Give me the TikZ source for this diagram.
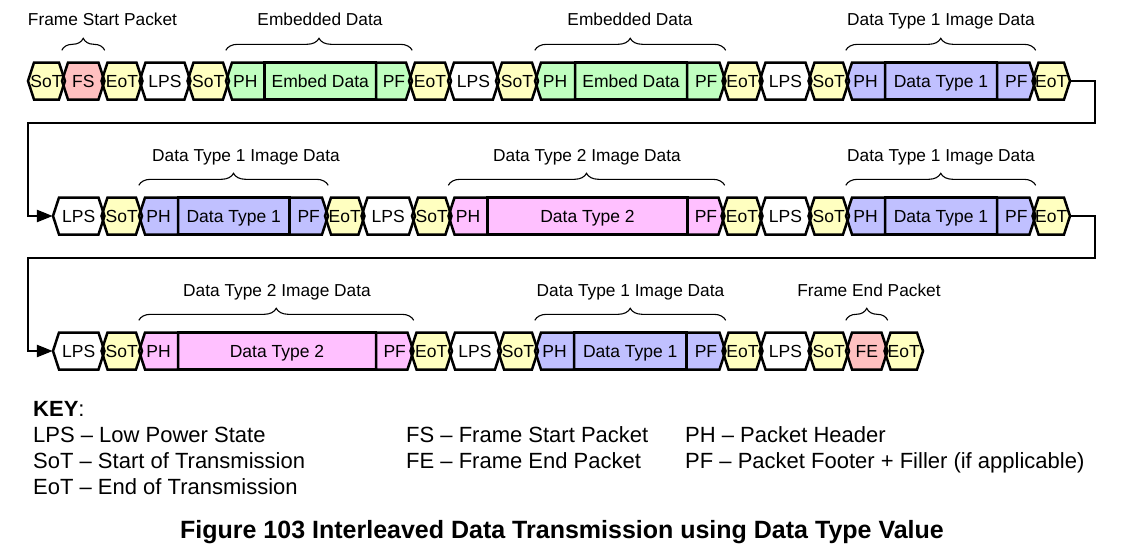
\documentclass[tikz,border=0pt]{standalone}
\usepackage{fontspec}
\setmainfont{Liberation Sans}
\usetikzlibrary{arrows.meta,decorations.pathreplacing}

\definecolor{sotyellow}{HTML}{FFFFC0}
\definecolor{framered}{HTML}{FFC0C0}
\definecolor{embgreen}{HTML}{C0FFC0}
\definecolor{dtblue}{HTML}{C0C0FF}
\definecolor{dtpink}{HTML}{FFC0FF}

\tikzset{
  celltext/.style={inner sep=0pt, minimum height=37pt, text height=12.2pt, text depth=0pt,
    font=\fontsize{17.5}{20}\selectfont},
  cellline/.style={line width=2.5pt},
  grouplabel/.style={anchor=base, inner sep=0pt, font=\fontsize{17.3}{20}\selectfont},
  groupbrace/.style={decorate, decoration={brace, amplitude=12pt}, line width=1.1pt},
  wrap/.style={line width=2.5pt, -{Triangle[length=16pt, width=12pt]}},
  keytext/.style={anchor=base west, inner sep=0pt, font=\fontsize{22}{26}\selectfont},
}

% outline of one cell, pointed on the left/right when \pl/\pr is 1
\newcommand\cellpath[1]{({\lft-1.5*\pl},#1) -- ({\lft+4.5*\pl},#1-18.5)
  -- ({\rgt-4.5*\pr},#1-18.5) -- ({\rgt+1.5*\pr},#1) -- ({\rgt-4.5*\pr},#1+18.5)
  -- ({\lft+4.5*\pl},#1+18.5) -- cycle}

% one row: name/left/right/left tip/right tip/colour/text
\newcommand\cellrow[2]{%
  \foreach \nm/\lft/\rgt/\pl/\pr/\col/\txt in {#2}
    \fill[\col] \cellpath{#1};
  \foreach \nm/\lft/\rgt/\pl/\pr/\col/\txt in {#2} {
    \draw[cellline] \cellpath{#1};
    \pgfmathsetmacro\cw{\rgt-\lft+1.5*\pl+1.5*\pr}
    \node[celltext, minimum width=\cw pt] (\nm) at ({(\lft-1.5*\pl+\rgt+1.5*\pr)/2},#1) {\txt};
  }}

\begin{document}
\begin{tikzpicture}[x=1pt, y=-1pt]
\useasboundingbox (0,0) rectangle (1128,557);

% row 1
\cellrow{81}{r1sot1/29.5/63.5/1/1/sotyellow/SoT, r1fs/63.5/103/1/1/framered/FS,
  r1eot1/103/141/1/1/sotyellow/EoT, r1lps1/141/189/1/1/white/LPS,
  r1sot2/189/227.5/1/1/sotyellow/SoT, r1ph1/227.5/264.5/1/0/embgreen/PH,
  r1emb1/264.5/376/0/0/embgreen/Embed Data, r1pf1/376/410.5/0/1/embgreen/PF,
  r1eot2/410.5/449.5/1/1/sotyellow/EoT, r1lps2/449.5/497.5/1/1/white/LPS,
  r1sot3/497.5/536.5/1/1/sotyellow/SoT, r1ph2/536.5/575/1/0/embgreen/PH,
  r1emb2/575/687/0/0/embgreen/Embed Data, r1pf2/687/724/0/1/embgreen/PF,
  r1eot3/724/761/1/1/sotyellow/EoT, r1lps3/761/810/1/1/white/LPS,
  r1sot4/810/847.5/1/1/sotyellow/SoT, r1ph3/847.5/885/1/0/dtblue/PH,
  r1dt1/885/997/0/0/dtblue/Data Type 1, r1pf3/997/1034/0/1/dtblue/PF,
  r1eot4/1034/1068.5/1/1/sotyellow/EoT}

% row 2
\cellrow{216}{r2lps1/54.5/103/1/1/white/LPS, r2sot1/103/140.5/1/1/sotyellow/SoT,
  r2ph1/140.5/178/1/0/dtblue/PH, r2dt1/178/289.5/0/0/dtblue/Data Type 1,
  r2pf1/289.5/326.5/0/1/dtblue/PF, r2eot1/326.5/363/1/1/sotyellow/EoT,
  r2lps2/363/413.5/1/1/white/LPS, r2sot2/413.5/450/1/1/sotyellow/SoT,
  r2ph2/450/487.5/1/0/dtpink/PH, r2dt2/487.5/687.5/0/0/dtpink/Data Type 2,
  r2pf2/687.5/723/0/1/dtpink/PF, r2eot2/723/761/1/1/sotyellow/EoT,
  r2lps3/761/810/1/1/white/LPS, r2sot3/810/847.5/1/1/sotyellow/SoT,
  r2ph3/847.5/885/1/0/dtblue/PH, r2dt3/885/997/0/0/dtblue/Data Type 1,
  r2pf3/997/1034/0/1/dtblue/PF, r2eot3/1034/1068.5/1/1/sotyellow/EoT}

% row 3
\cellrow{351}{r3lps1/54.5/103/1/1/white/LPS, r3sot1/103/140.5/1/1/sotyellow/SoT,
  r3ph1/140.5/178/1/0/dtpink/PH, r3dt1/178/376/0/0/dtpink/Data Type 2,
  r3pf1/376/412/0/1/dtpink/PF, r3eot1/412/450.5/1/1/sotyellow/EoT,
  r3lps2/450.5/499.5/1/1/white/LPS, r3sot2/499.5/536.5/1/1/sotyellow/SoT,
  r3ph2/536.5/574/1/0/dtblue/PH, r3dt2/574/686.5/0/0/dtblue/Data Type 1,
  r3pf2/686.5/724/0/1/dtblue/PF, r3eot2/724/761/1/1/sotyellow/EoT,
  r3lps3/761/810/1/1/white/LPS, r3sot3/810/847.5/1/1/sotyellow/SoT,
  r3fe/847.5/886/1/1/framered/FE, r3eot3/886/921.5/1/1/sotyellow/EoT}

% wrap-around lines
\coordinate (bendA) at (1095,123);
\coordinate (bendB) at (28,123);
\coordinate (bendC) at (1095,258);
\coordinate (bendD) at (28,258);
\draw[wrap] (r1eot4.east) -| (bendA) -- (bendB) |- (r2lps1.west);
\draw[wrap] (r2eot3.east) -| (bendC) -- (bendD) |- (r3lps1.west);

% braces
\foreach \a/\b in {r1fs/r1fs, r1ph1/r1pf1, r1ph2/r1pf2, r1ph3/r1pf3,
  r2ph1/r2pf1, r2ph2/r2pf2, r2ph3/r2pf3, r3ph1/r3pf1, r3ph2/r3pf2, r3fe/r3fe}
  \draw[groupbrace] ([yshift=12pt]\a.north west) -- ([yshift=12pt]\b.north east);

\node[grouplabel] (lblfs) at (102.5,25) {Frame Start Packet};
\node[grouplabel] (lblemb1) at (320,25) {Embedded Data};
\node[grouplabel] (lblemb2) at (630,25) {Embedded Data};
\node[grouplabel] (lbldt1) at (941,25) {Data Type 1 Image Data};
\node[grouplabel] (lbldt2) at (246,161) {Data Type 1 Image Data};
\node[grouplabel] (lbldt3) at (587,161) {Data Type 2 Image Data};
\node[grouplabel] (lbldt4) at (941,161) {Data Type 1 Image Data};
\node[grouplabel] (lbldt5) at (277,296) {Data Type 2 Image Data};
\node[grouplabel] (lbldt6) at (630.5,296) {Data Type 1 Image Data};
\node[grouplabel] (lblfe) at (869,296) {Frame End Packet};

% key
\node[keytext] (keyhead) at (33,416) {\textbf{KEY}:};
\node[keytext] (keylps) at (33,442) {LPS -- Low Power State};
\node[keytext] (keysot) at (33,468) {SoT -- Start of Transmission};
\node[keytext] (keyeot) at (33,494) {EoT -- End of Transmission};
\node[keytext] (keyfs) at (406,442) {FS -- Frame Start Packet};
\node[keytext] (keyfe) at (406,468) {FE -- Frame End Packet};
\node[keytext] (keyph) at (685,442) {PH -- Packet Header};
\node[keytext] (keypf) at (685,468) {PF -- Packet Footer + Filler (if applicable)};

\node[anchor=base, inner sep=0pt, font=\bfseries\fontsize{25}{30}\selectfont] (caption)
  at (562,538) {Figure 103 Interleaved Data Transmission using Data Type Value};
\end{tikzpicture}
\end{document}
